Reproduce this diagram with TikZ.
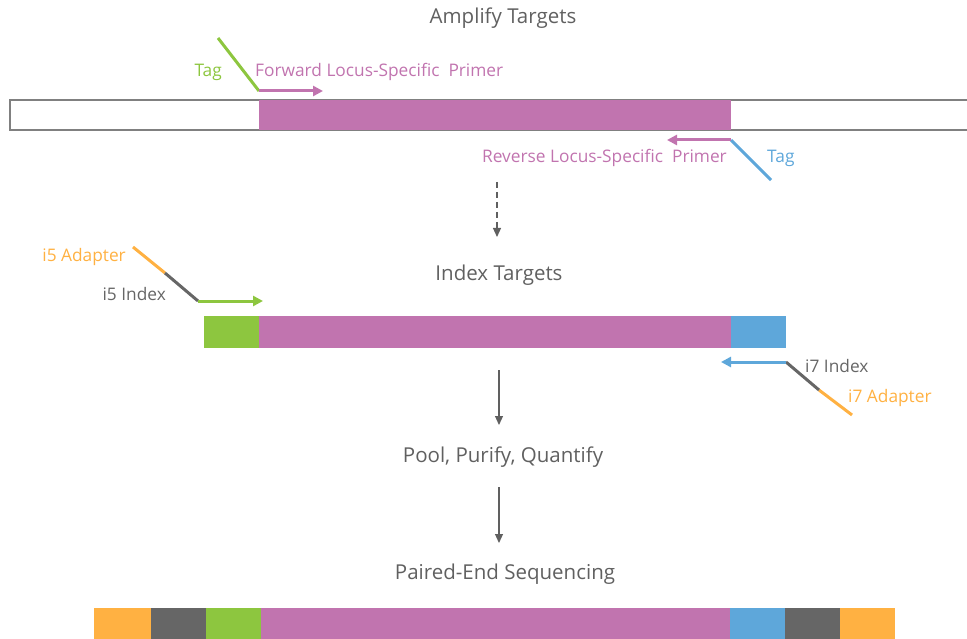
\documentclass[tikz,border=0pt]{standalone}
\usepackage{fontspec}
\setmainfont{Open Sans}
\usepackage{tikz}
\usetikzlibrary{arrows.meta}

\definecolor{locus}{HTML}{C174AF}
\definecolor{tagg}{HTML}{8DC63F}
\definecolor{tagb}{HTML}{5EA7DA}
\definecolor{adapt}{HTML}{FFB142}
\definecolor{indx}{HTML}{666666}
\definecolor{stepc}{HTML}{606060}

\begin{document}
\begin{tikzpicture}[x=1pt, y=-1pt,
  every node/.style={font=\fontsize{17.3}{19}\selectfont, inner sep=0pt},
  title/.style={text=stepc, font=\fontsize{20.5}{22}\selectfont},
  primer/.style={line width=3pt, -{Triangle[length=10pt,width=10pt]}},
  tail/.style={line width=3pt},
  flow/.style={stepc, line width=1.2pt, -{Triangle[length=9pt,width=8pt]}}]
  \useasboundingbox (0,0) rectangle (967,639);

  % Step titles
  \node[title] (amp) at (503,18) {Amplify Targets};
  \node[title] (idx) at (499,275) {Index Targets};
  \node[title] (pool) at (503,457) {Pool, Purify, Quantify};
  \node[title] (seq) at (505,574) {Paired-End Sequencing};

  % Template with the target region
  \draw[gray, line width=2pt] (967,100) -- (10,100) -- (10,130) -- (967,130);
  \fill[locus] (259,100) rectangle (731,130);

  % Forward primer with its tag
  \coordinate (fwd) at (259,91);
  \coordinate (fwdtag) at (218,38);
  \coordinate (fwdtip) at (323,91);
  \draw[tagg, tail] (fwdtag) -- (fwd);
  \draw[locus, primer] (fwd) -- (fwdtip);
  \node[tagg, anchor=east] (tagf) at (222,72) {Tag};
  \node[locus, anchor=west] (fwdl) at (255,72) {Forward Locus-Specific\ \ Primer};

  % Reverse primer with its tag
  \coordinate (rev) at (731,140);
  \coordinate (revtag) at (771,180);
  \coordinate (revtip) at (667,140);
  \draw[tagb, tail] (revtag) -- (rev);
  \draw[locus, primer] (rev) -- (revtip);
  \node[tagb, anchor=west] (tagr) at (767,158) {Tag};
  \node[locus, anchor=east] (revl) at (727,158) {Reverse Locus-Specific\ \ Primer};

  \draw[flow, dash pattern=on 6pt off 4pt] (497,182) -- (497,237);

  % Tagged amplicon
  \fill[tagg] (204,316) rectangle (259,348);
  \fill[locus] (259,316) rectangle (731,348);
  \fill[tagb] (731,316) rectangle (786,348);

  % i5 adapter and index
  \coordinate (i5a) at (133,247);
  \coordinate (i5m) at (165,273);
  \coordinate (i5) at (198,301);
  \coordinate (i5tip) at (263,301);
  \draw[adapt, tail] (i5a) -- (i5m);
  \draw[indx, tail] (i5m) -- (i5);
  \draw[tagg, primer] (i5) -- (i5tip);
  \node[adapt, anchor=east] (i5al) at (126,257) {i5 Adapter};
  \node[indx, anchor=east] (i5il) at (166,294) {i5 Index};

  % i7 adapter and index
  \coordinate (i7) at (786,362);
  \coordinate (i7m) at (819,390);
  \coordinate (i7a) at (852,415);
  \coordinate (i7tip) at (721,362);
  \draw[adapt, tail] (i7a) -- (i7m);
  \draw[indx, tail] (i7m) -- (i7);
  \draw[tagb, primer] (i7) -- (i7tip);
  \node[indx, anchor=west] (i7il) at (805,366) {i7 Index};
  \node[adapt, anchor=west] (i7al) at (848,398) {i7 Adapter};

  \draw[flow] (499,370) -- (499,425);
  \draw[flow] (499,487) -- (499,543);

  % Final library
  \fill[adapt] (94,608) rectangle (151,639);
  \fill[indx] (151,608) rectangle (206,639);
  \fill[tagg] (206,608) rectangle (261,639);
  \fill[locus] (261,608) rectangle (730,639);
  \fill[tagb] (730,608) rectangle (785,639);
  \fill[indx] (785,608) rectangle (840,639);
  \fill[adapt] (840,608) rectangle (895,639);
\end{tikzpicture}
\end{document}
